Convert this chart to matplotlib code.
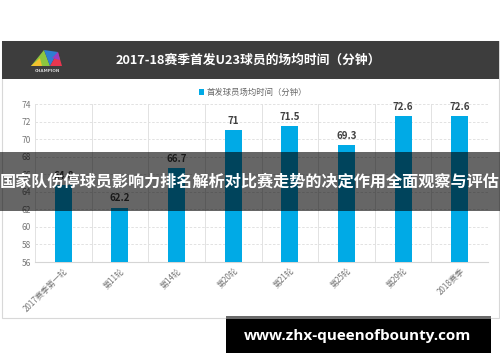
import matplotlib
matplotlib.use("Agg")
import matplotlib.pyplot as plt
from matplotlib.patches import Rectangle, Polygon

plt.rcParams['font.family'] = ['Noto Sans CJK SC', 'DejaVu Sans']

categories = ["2017赛季第一轮", "第11轮", "第14轮", "第20轮", "第21轮", "第25轮", "第29轮", "2018赛季"]
values = [64.8, 62.2, 66.7, 71.0, 71.5, 69.3, 72.6, 72.6]
value_labels = ["64.8", "62.2", "66.7", "71", "71.5", "69.3", "72.6", "72.6"]
yticks = [56, 58, 60, 62, 64, 66, 68, 70, 72, 74]
title = "2017-18赛季首发U23球员的场均时间（分钟）"
legend_label = "首发球员场均时间（分钟）"
banner_text = "国家队伤停球员影响力排名解析对比赛走势的决定作用全面观察与评估"
url_text = "www.zhx-queenofbounty.com"

W, H = 500, 362
fig = plt.figure(figsize=(W / 100, H / 100), dpi=100)
fig.patch.set_facecolor("white")

def fx(x):
    return x / W

def fy(y):
    return 1 - y / H

def frect(x0, y0, x1, y1, **kw):
    r = Rectangle((fx(x0), fy(y1)), fx(x1) - fx(x0), fy(y0) - fy(y1),
                  transform=fig.transFigure, **kw)
    fig.patches.append(r)
    return r

# chart frame
frect(1.5, 41, 498.5, 318, facecolor="white", edgecolor="#d8d8d8", lw=0.8, zorder=-2)
# header band
frect(1.5, 41, 498.5, 79, facecolor="#3d3d3d", edgecolor="none", zorder=1)
fig.text(fx(248), fy(60), title, color="white", fontsize=9.2, fontweight="bold",
         ha="center", va="center", zorder=2)

# logo
logo_polys = [
    ([(31, 66), (44, 50), (50, 66)], "#8cc63f"),
    ([(44, 50), (58, 52), (50, 66)], "#2e7fd1"),
    ([(50, 66), (58, 52), (62, 66)], "#e8364f"),
    ([(52, 58), (58, 52), (60, 60)], "#9b3fbf"),
    ([(31, 66), (40, 58), (42, 66)], "#f2c12e"),
]
for pts, col in logo_polys:
    fig.patches.append(Polygon([(fx(a), fy(b)) for a, b in pts], closed=True,
                               transform=fig.transFigure, facecolor=col,
                               edgecolor="none", zorder=2))
fig.text(fx(47), fy(70.5), "CHAMPION", color="#cfcfcf", fontsize=3, fontweight="bold",
         ha="center", va="center", family="DejaVu Sans", zorder=2)

# main axes
ax = fig.add_axes([fx(35), fy(262), fx(488) - fx(35), fy(104) - fy(262)])
ax.set_zorder(0)
ax.set_facecolor("white")
x = list(range(len(categories)))
ax.bar(x, values, width=0.3, color="#00AAE6", zorder=3, label=legend_label)
ax.set_xlim(-0.5, len(categories) - 0.5)
ax.set_ylim(56, 74)
ax.set_yticks(yticks)
ax.set_yticklabels([str(t) for t in yticks], fontsize=6, color="#777777")
for t in yticks[1:]:
    ax.axhline(t, color="#dddddd", lw=0.6, ls=(0, (3, 2)), zorder=1)
for i in range(len(categories) + 1):
    ax.axvline(i - 0.5, color="#e2e2e2", lw=0.7, zorder=1)
for s in ["top", "right", "left"]:
    ax.spines[s].set_visible(False)
ax.spines["bottom"].set_color("#d5d5d5")
ax.spines["bottom"].set_linewidth(0.8)
ax.tick_params(axis="both", length=0, pad=3)
ax.set_xticks(x)
ax.set_xticklabels(categories, fontsize=5.8, color="#777777", rotation=45,
                   ha="right", va="top", rotation_mode="anchor")
ax.tick_params(axis="x", pad=3)
for i, (v, lab) in enumerate(zip(values, value_labels)):
    ax.annotate(lab, (i, v), xytext=(0, 3), textcoords="offset points",
                ha="center", va="bottom", fontsize=7, fontweight="bold",
                color="#404040", zorder=4, annotation_clip=False)
leg = fig.legend(loc="center", bbox_to_anchor=(fx(253), fy(92.5)), frameon=False,
                 fontsize=6, handlelength=0.6, handleheight=0.6, handletextpad=0.4,
                 labelcolor="#666666")

# overlay banner
frect(0, 152, 500, 211, facecolor="black", alpha=0.6, edgecolor="none", zorder=10)
fig.text(fx(250), fy(181.5), banner_text, color="white", fontsize=11.6,
         fontweight="bold", ha="center", va="center", zorder=11)

# url banner
frect(226, 316, 491, 353, facecolor="black", edgecolor="none", zorder=10)
frect(226, 316, 491, 319, facecolor="#6a6a6a", edgecolor="none", zorder=11)
fig.text(fx(358), fy(336), url_text, color="white", fontsize=11,
         fontweight="bold", ha="center", va="center", family=["Open Sans", "DejaVu Sans"],
         zorder=11)

fig.savefig("out.png", dpi=100)
